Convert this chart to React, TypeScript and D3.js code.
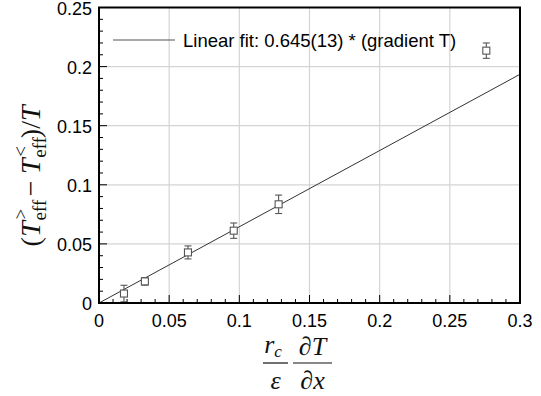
import React, { useEffect, useRef } from 'react';
import * as d3 from 'd3';

// values
const gradientT = [0.0178, 0.0327, 0.0634, 0.096, 0.128, 0.276];
const deltaTeff = [0.008, 0.0183, 0.0428, 0.0612, 0.0835, 0.2135];
const errorBars = [0.007, 0.0032, 0.0055, 0.0065, 0.0078, 0.0065];
const fitSlope = 0.645;
const fitLabel = 'Linear fit: 0.645(13) * (gradient T)';
const xTicks = [0, 0.05, 0.1, 0.15, 0.2, 0.25, 0.3];
const yTicks = [0, 0.05, 0.1, 0.15, 0.2, 0.25];
const tickLabels = ['0', '0.05', '0.1', '0.15', '0.2', '0.25', '0.3'];

const width = 541;
const height = 396;

const App: React.FC = () => {
    const svgRef = useRef<SVGSVGElement | null>(null);

    useEffect(() => {
        if (!svgRef.current) return;
        const svg = d3.select(svgRef.current);
        svg.selectAll('*').remove();

        const margin = { top: 7.5, right: 21, bottom: 93, left: 99 };
        const x = d3.scaleLinear().domain([0, 0.3]).range([margin.left, width - margin.right]);
        const y = d3.scaleLinear().domain([0, 0.25]).range([height - margin.bottom, margin.top]);
        const sans = '"Liberation Sans", Arial, sans-serif';
        const serif = '"Liberation Serif", "Times New Roman", serif';

        // grid
        const grid = svg.append('g').attr('stroke', '#d4d4d4').attr('stroke-width', 1.2);
        xTicks.slice(1, -1).forEach(t => {
            grid.append('line').attr('x1', x(t)).attr('x2', x(t)).attr('y1', y(0)).attr('y2', y(0.25));
        });
        yTicks.slice(1, -1).forEach(t => {
            grid.append('line').attr('x1', x(0)).attr('x2', x(0.3)).attr('y1', y(t)).attr('y2', y(t));
        });

        // ticks (inside, bottom and left only)
        const ticks = svg.append('g').attr('stroke', '#000').attr('stroke-width', 1);
        d3.range(0, 31).forEach(i => {
            const v = i / 100;
            const len = i % 5 === 0 ? 8 : 4;
            ticks.append('line').attr('x1', x(v)).attr('x2', x(v)).attr('y1', y(0)).attr('y2', y(0) - len);
        });
        d3.range(0, 26).forEach(i => {
            const v = i / 100;
            const len = i % 5 === 0 ? 8 : 4;
            ticks.append('line').attr('x1', x(0)).attr('x2', x(0) + len).attr('y1', y(v)).attr('y2', y(v));
        });

        // fit line
        svg.append('line')
            .attr('x1', x(0)).attr('y1', y(0))
            .attr('x2', x(0.3)).attr('y2', y(0.3 * fitSlope))
            .attr('stroke', '#333').attr('stroke-width', 1);

        // data with error bars
        const pts = svg.append('g').attr('stroke', '#555').attr('stroke-width', 1.1).attr('fill', 'none');
        gradientT.forEach((gx, i) => {
            const cx = x(gx);
            const cy = y(deltaTeff[i]);
            const top = y(deltaTeff[i] + errorBars[i]);
            const bot = y(deltaTeff[i] - errorBars[i]);
            pts.append('line').attr('x1', cx).attr('x2', cx).attr('y1', top).attr('y2', bot);
            pts.append('line').attr('x1', cx - 3.5).attr('x2', cx + 3.5).attr('y1', top).attr('y2', top);
            pts.append('line').attr('x1', cx - 3.5).attr('x2', cx + 3.5).attr('y1', bot).attr('y2', bot);
            pts.append('rect').attr('x', cx - 3.5).attr('y', cy - 3.5).attr('width', 7).attr('height', 7)
                .attr('fill', '#fff');
        });

        // frame
        svg.append('rect')
            .attr('x', x(0)).attr('y', y(0.25))
            .attr('width', x(0.3) - x(0)).attr('height', y(0) - y(0.25))
            .attr('fill', 'none').attr('stroke', '#000').attr('stroke-width', 2);

        // tick labels
        xTicks.forEach((t, i) => {
            svg.append('text').attr('x', x(t)).attr('y', y(0) + 24)
                .attr('text-anchor', 'middle').attr('font-family', sans).attr('font-size', 18)
                .text(tickLabels[i]);
        });
        yTicks.forEach((t, i) => {
            svg.append('text').attr('x', x(0) - 7).attr('y', y(t) + 7)
                .attr('text-anchor', 'end').attr('font-family', sans).attr('font-size', 18)
                .text(tickLabels[i]);
        });

        // legend
        svg.append('line').attr('x1', 113).attr('x2', 175).attr('y1', 40).attr('y2', 40)
            .attr('stroke', '#555').attr('stroke-width', 1);
        svg.append('text').attr('x', 183).attr('y', 46.5)
            .attr('font-family', sans).attr('font-size', 18.5).text(fitLabel);

        // x label: (r_c / eps) (dT / dx)
        const fs = 26;
        const xl = svg.append('g').attr('font-family', serif).attr('font-size', fs).attr('fill', '#111');
        const n1 = xl.append('text').attr('x', 273).attr('y', 353).attr('text-anchor', 'middle');
        n1.append('tspan').attr('font-style', 'italic').text('r');
        n1.append('tspan').attr('font-style', 'italic').attr('font-size', 17).attr('dy', 4).text('c');
        xl.append('line').attr('x1', 263).attr('x2', 288).attr('y1', 363).attr('y2', 363)
            .attr('stroke', '#111').attr('stroke-width', 1.2);
        xl.append('text').attr('x', 275.5).attr('y', 389).attr('text-anchor', 'middle')
            .attr('font-style', 'italic').text('ε');
        const n2 = xl.append('text').attr('x', 312.5).attr('y', 355).attr('text-anchor', 'middle');
        n2.append('tspan').text('∂');
        n2.append('tspan').attr('font-style', 'italic').text('T');
        xl.append('line').attr('x1', 293).attr('x2', 332).attr('y1', 363).attr('y2', 363)
            .attr('stroke', '#111').attr('stroke-width', 1.2);
        const d2 = xl.append('text').attr('x', 312.5).attr('y', 389).attr('text-anchor', 'middle');
        d2.append('tspan').text('∂');
        d2.append('tspan').attr('font-style', 'italic').text('x');

        // y label: (T^>_eff - T^<_eff)/T, rotated
        const yfs = 28;
        const k = yfs / 29;
        const yl = svg.append('g')
            .attr('transform', `translate(40,${175}) rotate(-90)`)
            .attr('font-family', serif).attr('font-size', yfs).attr('fill', '#111');
        const off = -74 * k;
        const put = (s: string, px: number, py: number, size: number, italic: boolean) => {
            yl.append('text').attr('x', off + px * k).attr('y', py * k).attr('font-size', size)
                .attr('font-style', italic ? 'italic' : 'normal').text(s);
        };
        const ss = 19;
        put('(', 0, 0, yfs, false);
        put('T', 10, 0, yfs, true);
        put('>', 28, -13, ss, false);
        put('eff', 27, 6, ss, false);
        put('−', 52, 0, yfs, false);
        put('T', 75, 0, yfs, true);
        put('<', 93, -13, ss, false);
        put('eff', 92, 6, ss, false);
        put(')', 112, 0, yfs, false);
        put('/', 122, 0, yfs, false);
        put('T', 130, 0, yfs, true);
    }, []);

    return (
        <div style={{ position: 'absolute', left: 0, top: 0 }}>
            <svg ref={svgRef} width={width} height={height} style={{ display: 'block', background: '#fff' }} />
        </div>
    );
};

export default App;
